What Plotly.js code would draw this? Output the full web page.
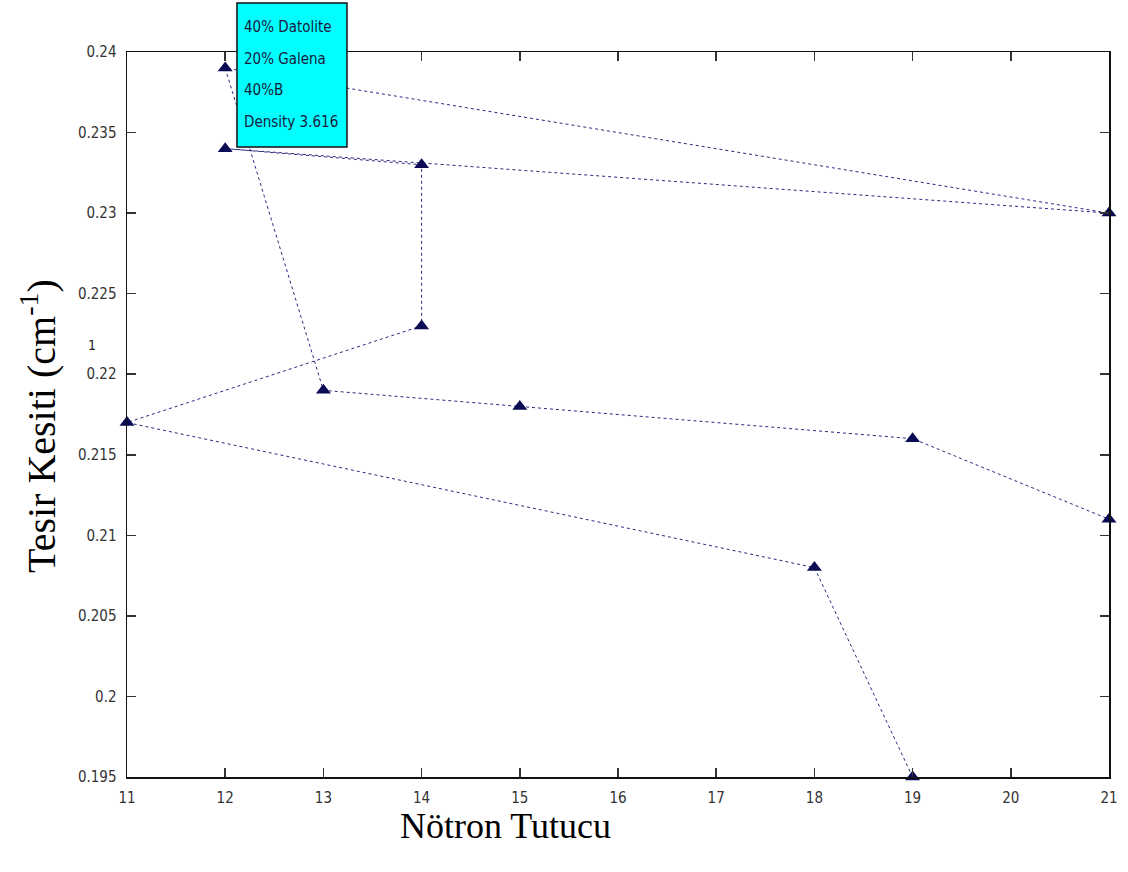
<!DOCTYPE html>
<html>
<head>
<meta charset="utf-8">
<script src="https://cdn.plot.ly/plotly-3.0.1.min.js"></script>
<style>
  html, body { margin: 0; padding: 0; background: #ffffff; }
  #chart { width: 1128px; height: 872px; }
</style>
</head>
<body>
<div id="chart"></div>
<script>
// Data (points in drawing order of the single dotted line)
const nutronX = [19, 18, 11, 14, 14, 12, 21, 12, 13, 15, 19, 21];
const tesirY = [0.195, 0.208, 0.217, 0.223, 0.233, 0.234, 0.230, 0.239, 0.219, 0.218, 0.216, 0.211];

const xTickVals = [11, 12, 13, 14, 15, 16, 17, 18, 19, 20, 21];
const xTickText = ['11', '12', '13', '14', '15', '16', '17', '18', '19', '20', '21'];
const yTickVals = [0.195, 0.2, 0.205, 0.21, 0.215, 0.22, 0.225, 0.23, 0.235, 0.24];
const yTickText = ['0.195', '0.2', '0.205', '0.21', '0.215', '0.22', '0.225', '0.23', '0.235', '0.24'];

const infoLines = ['40% Datolite', '20% Galena', '40%B', 'Density 3.616'];
const xTitle = 'Nötron Tutucu';
const yTitle = 'Tesir Kesiti (cm<sup>-1</sup>)';

const narrow = '"Liberation Sans Narrow", "DejaVu Sans Condensed", "Arial Narrow", sans-serif';
const serif = '"Liberation Serif", "Times New Roman", serif';

const trace = {
  x: nutronX,
  y: tesirY,
  type: 'scatter',
  mode: 'lines+markers',
  cliponaxis: false,
  line: { color: '#2a2a80', width: 1, dash: 'dot' },
  marker: { symbol: 'triangle-up', size: 13, color: '#0b0b55', line: { width: 0 } },
  hoverinfo: 'skip',
  showlegend: false
};

const axisCommon = {
  showgrid: false,
  zeroline: false,
  showline: true,
  linecolor: '#111111',
  linewidth: 1.5,
  mirror: 'ticks',
  ticks: 'inside',
  ticklen: 9,
  tickwidth: 1.5,
  tickcolor: '#333333',
  tickmode: 'array',
  tickfont: { family: narrow, size: 15, color: '#333333' }
};

// box position in paper coords
const boxLeft = 0.112, boxRight = 0.224, boxTop = 1.0676, boxBottom = 0.8690;
const lineY = [1.0345, 0.9900, 0.9470, 0.9040];

const annotations = infoLines.map((t, i) => ({
  xref: 'paper', yref: 'paper',
  x: boxLeft + 0.005, y: lineY[i],
  xanchor: 'left', yanchor: 'middle',
  text: t, showarrow: false,
  font: { family: narrow, size: 15, color: '#1a1a3a' }
}));

annotations.push({
  xref: 'paper', yref: 'paper',
  x: (505 - 127) / 982, y: -0.067,
  xanchor: 'center', yanchor: 'middle',
  text: xTitle, showarrow: false,
  font: { family: serif, size: 36, color: '#000000' }
});
annotations.push({
  xref: 'paper', yref: 'paper',
  x: (38 - 127) / 982, y: (777 - 426) / 725,
  xanchor: 'center', yanchor: 'middle',
  textangle: -90,
  text: yTitle, showarrow: false,
  font: { family: serif, size: 40, color: '#000000' }
});
annotations.push({
  xref: 'paper', yref: 'paper',
  x: (92 - 127) / 982, y: (777 - 345) / 725,
  xanchor: 'center', yanchor: 'middle',
  text: '1', showarrow: false,
  font: { family: narrow, size: 14, color: '#222222' }
});

const layout = {
  width: 1128,
  height: 872,
  margin: { l: 127, r: 19, t: 52, b: 95, pad: 0 },
  paper_bgcolor: '#ffffff',
  plot_bgcolor: '#ffffff',
  showlegend: false,
  xaxis: Object.assign({}, axisCommon, {
    range: [11, 21],
    tickvals: xTickVals,
    ticktext: xTickText,
    ticklabelstandoff: 6
  }),
  yaxis: Object.assign({}, axisCommon, {
    range: [0.195, 0.24],
    tickvals: yTickVals,
    ticktext: yTickText,
    ticklabelstandoff: 6
  }),
  shapes: [{
    type: 'rect', xref: 'paper', yref: 'paper', layer: 'above',
    x0: boxLeft, x1: boxRight, y0: boxBottom, y1: boxTop,
    fillcolor: '#00ffff', line: { color: '#111111', width: 1.5 }
  }],
  annotations: annotations
};

Plotly.newPlot('chart', [trace], layout, { staticPlot: true, displayModeBar: false });
</script>
</body>
</html>
